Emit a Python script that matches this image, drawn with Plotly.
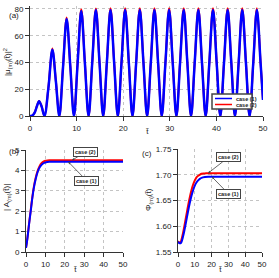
import plotly.graph_objects as go

# ---------------- data ----------------
# panel (a): |mu_(m)(t)|^2
t_mu = [0, 0.5, 1.0, 1.5, 1.95, 2.5, 3.1,
        3.95, 4.8, 5.55, 6.29,
        7.08, 7.87, 8.65, 9.43,
        10.21, 11.0, 11.78, 12.57,
        13.35, 14.14, 14.92, 15.71,
        16.49, 17.28, 18.06, 18.85,
        19.63, 20.42, 21.21, 21.99,
        22.78, 23.56, 24.35, 25.13,
        25.92, 26.70, 27.49, 28.27,
        29.06, 29.85, 30.63, 31.42,
        32.20, 32.99, 33.77, 34.56,
        35.34, 36.13, 36.91, 37.70,
        38.48, 39.27, 40.06, 40.84,
        41.63, 42.41, 43.20, 43.98,
        44.77, 45.55, 46.34, 47.12,
        47.91, 48.69, 49.48, 50.0]
mu_case1 = [0, 0.3, 2.5, 7.5, 11.0, 7.0, 0,
            21, 49.5, 26, 0,
            36, 72.5, 37, 0,
            39, 78.5, 39.5, 0,
            39.6, 79.2, 39.6, 0,
            39.6, 79.3, 39.6, 0,
            39.6, 79.3, 39.6, 0,
            39.6, 79.3, 39.6, 0,
            39.6, 79.3, 39.6, 0,
            39.6, 79.3, 39.6, 0,
            39.6, 79.3, 39.6, 0,
            39.6, 79.3, 39.6, 0,
            39.6, 79.3, 39.6, 0,
            39.6, 79.3, 39.6, 0,
            39.6, 79.3, 39.6, 0,
            39.6, 79.3, 39.6, 12]
mu_case2 = [0, 0.3, 2.55, 7.7, 11.3, 7.1, 0,
            21.3, 50.4, 26.3, 0,
            36.6, 73.6, 37.4, 0,
            39.6, 79.8, 39.8, 0,
            39.9, 80.4, 39.9, 0,
            39.9, 80.5, 39.9, 0,
            39.9, 80.5, 39.9, 0,
            39.9, 80.5, 39.9, 0,
            39.9, 80.5, 39.9, 0,
            39.9, 80.5, 39.9, 0,
            39.9, 80.5, 39.9, 0,
            39.9, 80.5, 39.9, 0,
            39.9, 80.5, 39.9, 0,
            39.9, 80.5, 39.9, 0,
            39.9, 80.5, 39.9, 0,
            39.9, 80.5, 39.9, 12.1]

# panel (b): |A_(m)(t)|
t_A = [0, 0.5, 1, 1.5, 2, 2.5, 3, 4, 5, 6, 7, 8, 9, 10, 11, 12, 14, 16, 20, 30, 40, 50]
A_case1 = [0.2, 0.5, 0.88, 1.3, 1.68, 2.05, 2.45, 3.12, 3.58, 3.92, 4.14, 4.27, 4.35, 4.39,
           4.41, 4.42, 4.42, 4.42, 4.42, 4.42, 4.42, 4.42]
A_case2 = [0.2, 0.52, 0.9, 1.33, 1.72, 2.1, 2.5, 3.17, 3.64, 3.98, 4.21, 4.35, 4.43, 4.47,
           4.49, 4.5, 4.5, 4.5, 4.5, 4.5, 4.5, 4.5]

# panel (c): Phi_(m)(t)
t_phi = [0, 0.5, 1, 1.5, 2, 3, 4, 5, 6, 7, 8, 9, 10, 11, 12, 13, 14, 16, 18, 20, 25, 30, 40, 50]
phi_case1 = [1.570, 1.568, 1.567, 1.567, 1.569, 1.580, 1.595, 1.612, 1.629, 1.645, 1.659,
             1.670, 1.679, 1.685, 1.689, 1.692, 1.694, 1.6955, 1.696, 1.696, 1.696, 1.696,
             1.696, 1.696]
phi_case2 = [1.571, 1.569, 1.568, 1.569, 1.573, 1.587, 1.604, 1.622, 1.640, 1.656, 1.670,
             1.681, 1.689, 1.695, 1.698, 1.700, 1.702, 1.7025, 1.703, 1.703, 1.703, 1.703,
             1.703, 1.703]

names = ["case (1)", "case (2)"]
colors = ["#0000ff", "#ff0000"]

W, H = 279, 278
FONT = "Liberation Sans, Arial, sans-serif"

fig = go.Figure()

def add_pair(t, y1, y2, xa, ya, w_blue=2):
    # red drawn first so blue lies on top
    fig.add_trace(go.Scatter(x=t, y=y2, mode="lines", name=names[1],
                             line=dict(color=colors[1], width=2, shape="spline"),
                             xaxis=xa, yaxis=ya, showlegend=False))
    fig.add_trace(go.Scatter(x=t, y=y1, mode="lines", name=names[0],
                             line=dict(color=colors[0], width=w_blue, shape="spline"),
                             xaxis=xa, yaxis=ya, showlegend=False))

add_pair(t_mu, mu_case1, mu_case2, "x", "y", w_blue=2.5)
add_pair(t_A, A_case1, A_case2, "x2", "y2")
add_pair(t_phi, phi_case1, phi_case2, "x3", "y3")

def px_x(p):
    return p / W

def px_y(p):
    return 1 - p / H

axis_common = dict(showline=True, linecolor="#333333", linewidth=1, ticks="outside",
                   ticklen=4, tickwidth=1, tickcolor="#333333", showgrid=True,
                   gridcolor="#c4c4c4", griddash="dot", gridwidth=1, zeroline=False,
                   automargin=False,
                   tickfont=dict(size=8, color="#222222", family=FONT), mirror=False)

tt = "t\u0303"

fig.update_layout(
    width=W, height=H, margin=dict(l=0, r=0, t=0, b=0, pad=0),
    paper_bgcolor="white", plot_bgcolor="white",
    font=dict(family=FONT, size=8, color="#222222"),
    xaxis=dict(domain=[px_x(30), px_x(263)], range=[0, 50], dtick=10, anchor="y",
               **axis_common),
    yaxis=dict(domain=[px_y(116), px_y(6.3)], range=[0, 82], tickvals=[0, 20, 40, 60, 80],
               anchor="x", **axis_common),
    xaxis2=dict(domain=[px_x(26), px_x(123)], range=[0, 50], dtick=10, anchor="y2",
                **axis_common),
    yaxis2=dict(domain=[px_y(252), px_y(150)], range=[0, 5], dtick=1, anchor="x2",
                **axis_common),
    xaxis3=dict(domain=[px_x(178), px_x(262)], range=[0, 50], dtick=10, anchor="y3",
                **axis_common),
    yaxis3=dict(domain=[px_y(252), px_y(149)], range=[1.55, 1.75], dtick=0.05,
                tickformat=".2f", anchor="x3", **axis_common),
)

# axis titles placed as text
titles = [
    (tt, 147, 131, 0),
    (tt, 75, 269, 0),
    (tt, 220, 269, 0),
    ("|\u03bc<sub>(m)</sub>(" + tt + ")|<sup>2</sup>", 8, 62, -90),
    ("| A<sub>(m)</sub>(" + tt + ")|", 7, 198, -90),
    ("\u03a6<sub>(m)</sub>(" + tt + ")", 149, 200, -90),
]
for txt, x, y, ang in titles:
    fig.add_annotation(text=txt, x=px_x(x), y=px_y(y), xref="paper", yref="paper",
                       showarrow=False, textangle=ang, xanchor="center", yanchor="middle",
                       font=dict(size=8, color="#222222"))

# panel labels
for lab, x, y in [("(a)", 7, 9), ("(b)", 7, 151), ("(c)", 147, 153)]:
    fig.add_annotation(text=lab, x=px_x(x), y=px_y(y), xref="paper", yref="paper",
                       showarrow=False, font=dict(size=8, color="#222222"))

# legend for panel (a), drawn as a small box
lx0, ly0, lx1, ly1 = 212, 94, 252, 109
fig.add_shape(type="rect", xref="paper", yref="paper",
              x0=px_x(lx0), x1=px_x(lx1), y0=px_y(ly1), y1=px_y(ly0),
              line=dict(color="#444444", width=1.5), fillcolor="white", layer="above")
for i, yy in enumerate([98.5, 104.5]):
    fig.add_shape(type="line", xref="paper", yref="paper",
                  x0=px_x(215), x1=px_x(232), y0=px_y(yy), y1=px_y(yy),
                  line=dict(color=colors[i], width=1.5), layer="above")
    fig.add_annotation(text="<b>" + names[i] + "</b>", x=px_x(234), y=px_y(yy),
                       xref="paper", yref="paper", xanchor="left", showarrow=False,
                       font=dict(size=5.5, color="#222222"))

# callouts in panels (b) and (c)
callouts = [
    ("x2", "y2", 23.7, 4.5, 13.5, -8, names[1]),
    ("x2", "y2", 21.8, 4.42, 18.5, 19, names[0]),
    ("x3", "y3", 17.9, 1.703, 20.5, -16, names[1]),
    ("x3", "y3", 20.2, 1.696, 16.5, 17, names[0]),
]
for xa, ya, x, y, ax, ay, txt in callouts:
    fig.add_annotation(text="<b>" + txt + "</b>", x=x, y=y, xref=xa, yref=ya,
                       ax=ax, ay=ay, showarrow=True, arrowhead=2, arrowsize=0.6,
                       arrowwidth=0.8, arrowcolor="#444444",
                       bordercolor="#444444", borderwidth=1, borderpad=1,
                       bgcolor="white", font=dict(size=5.5, color="#222222"))

fig.write_html("out.html", config={"displayModeBar": False},
               post_script="document.body.style.margin='0';document.body.style.overflow='hidden';")
